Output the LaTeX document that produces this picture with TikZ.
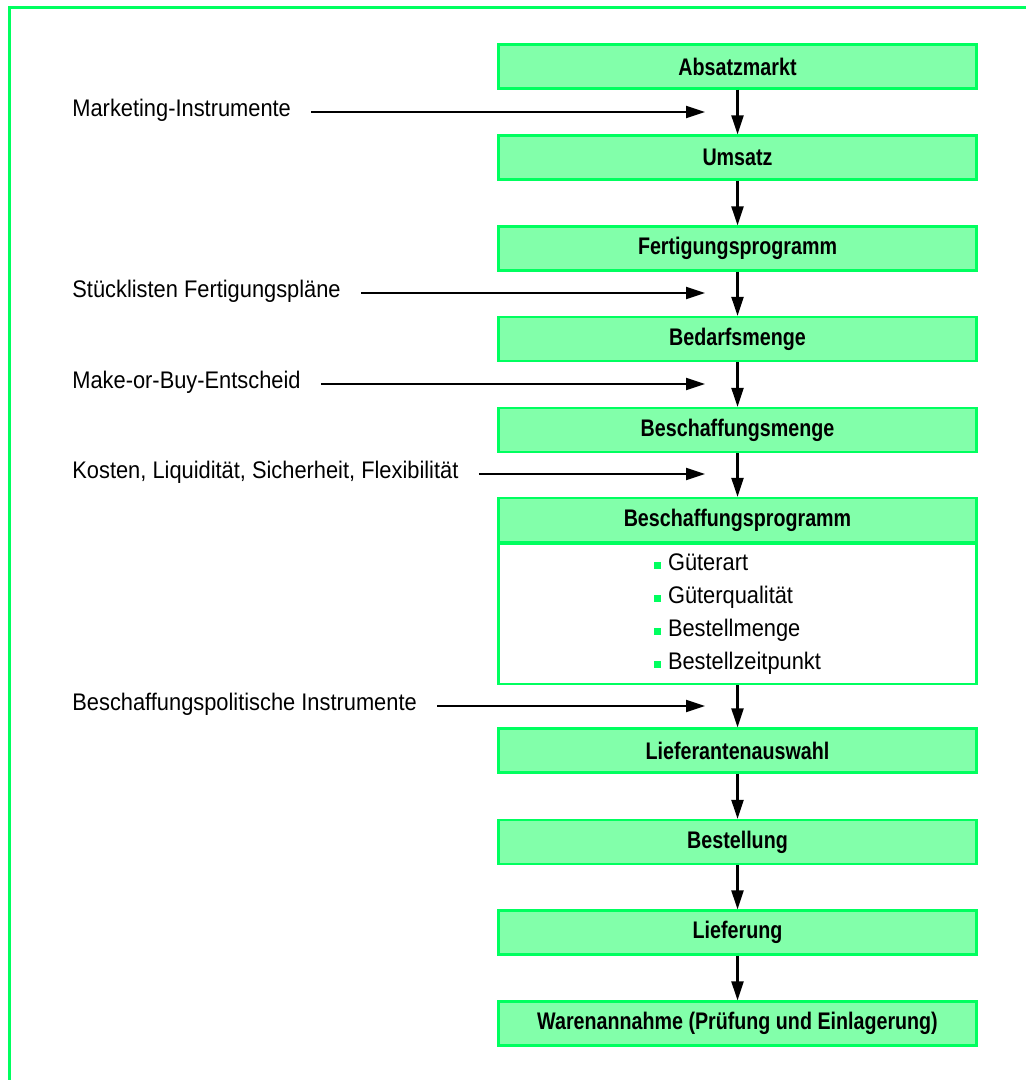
\documentclass[tikz,border=0pt]{standalone}
\usepackage{fontspec}
\setmainfont{Liberation Sans}[FakeStretch=0.91,BoldFeatures={FakeStretch=0.82}]
\usetikzlibrary{arrows.meta}
\definecolor{boxline}{RGB}{0,255,95}
\definecolor{boxfill}{RGB}{130,255,170}
\tikzset{
  stage/.style={draw=boxline,fill=boxfill,line width=1.1pt,minimum width=239pt,
    minimum height=22pt,inner sep=0pt,font=\fontsize{12}{16.5}\selectfont\bfseries},
  itembox/.style={draw=boxline,fill=white,line width=1.1pt,minimum width=239pt,
    minimum height=70pt,inner sep=0pt,align=left,font=\fontsize{12}{16.5}\selectfont},
  input/.style={anchor=west,inner sep=0pt,font=\fontsize{12}{16.5}\selectfont},
  flow/.style={-{Triangle[length=9.5pt,width=6pt]},line width=1.05pt}
}
\newcommand{\gsq}{{\color{boxline}\rule[1pt]{3.5pt}{3.5pt}}\hspace{3.5pt}}
\begin{document}
\begin{tikzpicture}[x=0.5pt,y=-0.5pt]
\useasboundingbox (0,0) rectangle (1026,1080);
% Rahmen
\draw[boxline,line width=1.7pt] (9.5,1080) -- (9.5,7.5) -- (1026,7.5);
% Stufen
\node[stage] (absatz) at (737.5,66.5) {Absatzmarkt};
\node[stage] (umsatz) at (737.5,157.5) {Umsatz};
\node[stage] (fertig) at (737.5,248.5) {Fertigungsprogramm};
\node[stage] (bedarf) at (737.5,339) {Bedarfsmenge};
\node[stage] (bmenge) at (737.5,430) {Beschaffungsmenge};
\node[stage] (prog) at (737.5,520) {Beschaffungsprogramm};
\node[itembox,anchor=north] (progbody) at (prog.south) {\gsq Güterart\\ \gsq Güterqualität\\ \gsq Bestellmenge\\ \gsq Bestellzeitpunkt};
\node[stage] (auswahl) at (737.5,750.5) {Lieferantenauswahl};
\node[stage] (bestell) at (737.5,842) {Bestellung};
\node[stage] (liefer) at (737.5,932.5) {Lieferung};
\node[stage] (waren) at (737.5,1023.5) {Warenannahme (Prüfung und Einlagerung)};
% Pfeile
\draw[flow] (absatz) -- (umsatz);
\draw[flow] (umsatz) -- (fertig);
\draw[flow] (fertig) -- (bedarf);
\draw[flow] (bedarf) -- (bmenge);
\draw[flow] (bmenge) -- (prog);
\draw[flow] (progbody) -- (auswahl);
\draw[flow] (auswahl) -- (bestell);
\draw[flow] (bestell) -- (liefer);
\draw[flow] (liefer) -- (waren);
% Einflussgroessen
\node[input] (mi) at (72,110) {Marketing-Instrumente};
\node[input] (sl) at (72,291) {Stücklisten Fertigungspläne};
\node[input] (mb) at (72,382) {Make-or-Buy-Entscheid};
\node[input] (kl) at (72,472) {Kosten, Liquidität, Sicherheit, Flexibilität};
\node[input] (bi) at (72,704) {Beschaffungspolitische Instrumente};
\coordinate (mi-end) at (705,112);
\coordinate (sl-end) at (705,293);
\coordinate (mb-end) at (705,384);
\coordinate (kl-end) at (705,474);
\coordinate (bi-end) at (705,706);
\draw[flow] ([xshift=10pt]mi.east|-mi-end) -- (mi-end);
\draw[flow] ([xshift=10pt]sl.east|-sl-end) -- (sl-end);
\draw[flow] ([xshift=10pt]mb.east|-mb-end) -- (mb-end);
\draw[flow] ([xshift=10pt]kl.east|-kl-end) -- (kl-end);
\draw[flow] ([xshift=10pt]bi.east|-bi-end) -- (bi-end);
\end{tikzpicture}
\end{document}
